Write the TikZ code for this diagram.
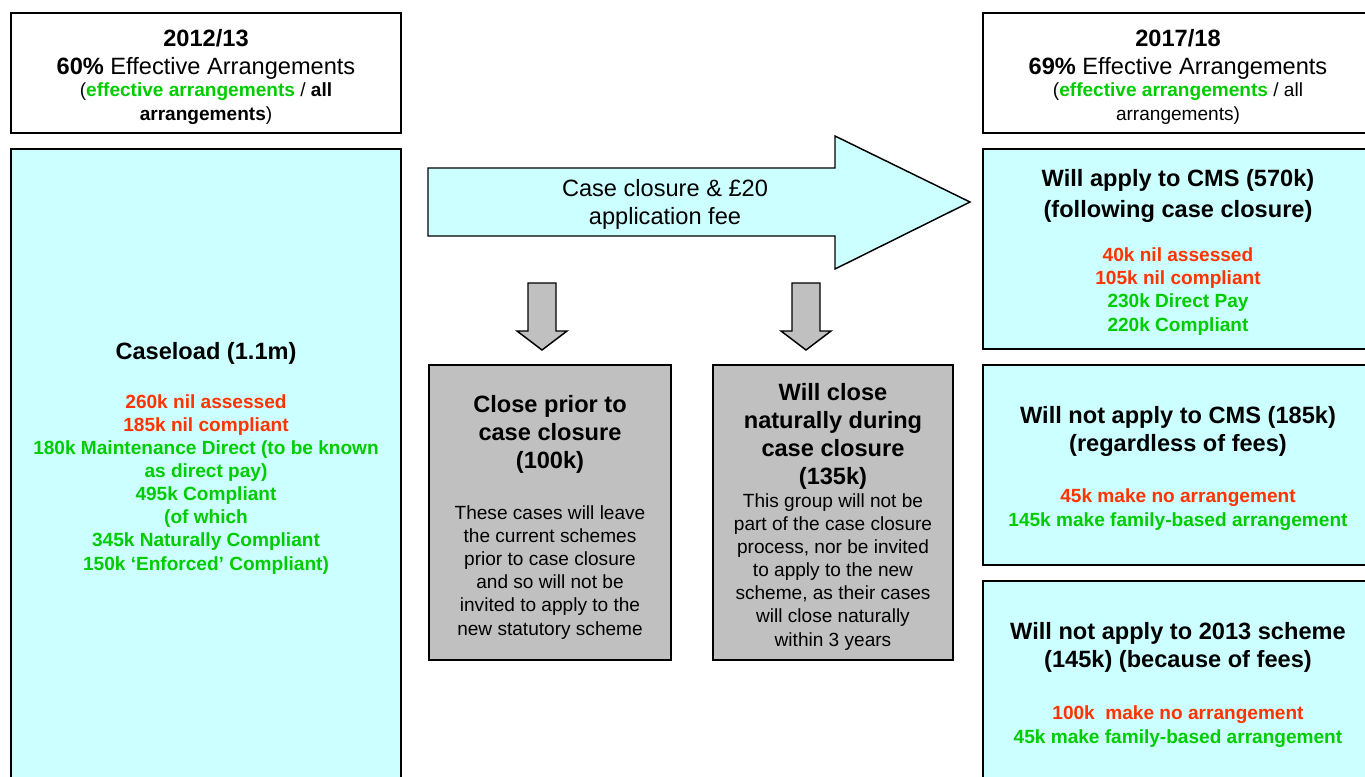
\documentclass[tikz,border=0pt]{standalone}
\usepackage{fontspec}
\setmainfont{Liberation Sans}
\definecolor{boxcyan}{RGB}{204,255,255}
\definecolor{boxgray}{RGB}{192,192,192}
\definecolor{nilred}{RGB}{255,51,0}
\definecolor{okgreen}{RGB}{0,204,0}
\newcommand{\bigfont}{\fontsize{17.7}{21}\selectfont}
\newcommand{\smallfont}{\fontsize{14.3}{17.3}\selectfont}
\tikzset{
  panel/.style={draw=black, line width=1.5pt},
  blockarrow/.style={draw=black, line width=1.1pt, line join=miter},
  heading/.style={align=center, anchor=base, inner sep=0pt, font=\bigfont\bfseries},
  body/.style={align=center, anchor=base, inner sep=0pt, font=\smallfont\bfseries},
  note/.style={align=center, anchor=base, inner sep=0pt, font=\smallfont}
}
\begin{document}
\begin{tikzpicture}[x=0.75pt, y=-0.75pt]
\useasboundingbox (0,0) rectangle (1365,776);
% panels
\draw[panel] (11,13) rectangle (401,133);
\draw[panel, fill=boxcyan] (11,149) rectangle (401,800);
\draw[panel] (983,13) rectangle (1373,133);
\draw[panel, fill=boxcyan] (983,149) rectangle (1373,349);
\draw[panel, fill=boxcyan] (983,365) rectangle (1373,565);
\draw[panel, fill=boxcyan] (983,581) rectangle (1373,800);
\draw[panel, fill=boxgray] (429,365) rectangle (671,660);
\draw[panel, fill=boxgray] (713,365) rectangle (953,660);
% block arrows
\draw[blockarrow, fill=boxcyan] (428,168) -- (835,168) -- (835,136) -- (970,202)
  -- (835,269) -- (835,236) -- (428,236) -- cycle;
\foreach \c in {542,806}{
  \draw[blockarrow, fill=boxgray] (\c-14,283) -- (\c+14,283) -- (\c+14,331) -- (\c+25,331)
    -- (\c,350) -- (\c-25,331) -- (\c-14,331) -- cycle;}
% 2012/13 (nodes sit on the baseline of their last line)
\node[heading] (yearL) at (206,74) {2012/13\\60\% {\mdseries Effective Arrangements}};
\node[note] (ratioL) at (206,120) {(\textbf{\textcolor{okgreen}{effective arrangements}} / \textbf{all}\\\textbf{arrangements})};
\node[heading] (caseload) at (206,359) {Caseload (1.1m)};
\node[body, text=okgreen] (caseloadlist) at (206,570) {\textcolor{nilred}{260k nil assessed}\\\textcolor{nilred}{185k nil compliant}\\180k Maintenance Direct (to be known\\as direct pay)\\495k Compliant\\(of which\\345k Naturally Compliant\\150k ‘Enforced’ Compliant)};
% middle
\node[note, font=\bigfont] (fee) at (665,224) {Case closure \& £20\\application fee};
\node[heading] (closeprior) at (550,468) {Close prior to\\case closure\\(100k)};
\node[note] (closepriortext) at (550,635) {These cases will leave\\the current schemes\\prior to case closure\\and so will not be\\invited to apply to the\\new statutory scheme};
\node[heading] (closenat) at (833,484) {Will close\\naturally during\\case closure\\(135k)};
\node[note] (closenattext) at (833,646) {This group will not be\\part of the case closure\\process, nor be invited\\to apply to the new\\scheme, as their cases\\will close naturally\\within 3 years};
% 2017/18
\node[heading] (yearR) at (1178,74) {2017/18\\69\% {\mdseries Effective Arrangements}};
\node[note] (ratioR) at (1178,120) {(\textbf{\textcolor{okgreen}{effective arrangements}} / all\\arrangements)};
\node[heading] (apply) at (1178,217) {Will apply to CMS (570k)\\[2pt](following case closure)};
\node[body, text=okgreen] (applylist) at (1178,331) {\textcolor{nilred}{40k nil assessed}\\\textcolor{nilred}{105k nil compliant}\\230k Direct Pay\\220k Compliant};
\node[heading] (notapply) at (1178,451) {Will not apply to CMS (185k)\\(regardless of fees)};
\node[body, text=okgreen] (notapplylist) at (1178,526) {\textcolor{nilred}{45k make no arrangement}\\145k make family-based arrangement};
\node[heading] (feesapply) at (1178,667) {Will not apply to 2013 scheme\\(145k) (because of fees)};
\node[body, text=okgreen] (feeslist) at (1178,743) {\textcolor{nilred}{100k\ \ make no arrangement}\\45k make family-based arrangement};
\end{tikzpicture}
\end{document}
